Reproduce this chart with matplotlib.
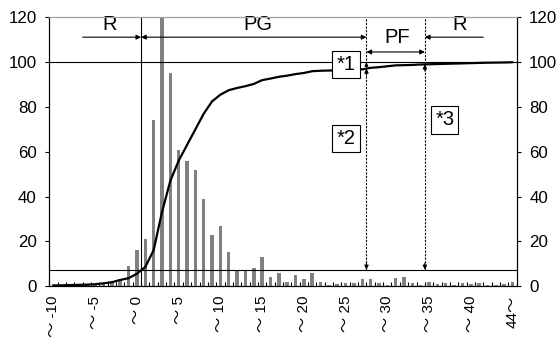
import numpy as np
import matplotlib
matplotlib.use('Agg')
import matplotlib.pyplot as plt

plt.rcParams['font.family'] = ['Liberation Sans', 'Noto Sans CJK JP']

# ---- data ----
bins = list(range(-10, 45))
categories = ['～ ' + str(b) for b in bins] + ['44～']
counts = [1, 0.5, 1, 0.3, 1, 0.5, 1.5, 1.5, 3, 9,
          16, 21, 74, 125, 95, 61, 56, 52, 39, 23,
          27, 15, 7, 7, 8, 13, 4, 6, 2, 5,
          3, 6, 2, 0.5, 1, 1.5, 1.5, 3, 3, 1.5,
          0.5, 3.5, 4, 1.5, 0.5, 2, 1, 1.5, 0.5, 1.5,
          1, 1.5, 0.5, 0.5, 1, 2]
cumulative = [0.2, 0.3, 0.4, 0.5, 0.6, 0.8, 1.2, 1.7, 2.7, 3.5,
              5.5, 8.5, 16, 33, 47, 56, 63, 70, 77, 82.5,
              85.5, 87.5, 88.5, 89.3, 90.3, 92, 92.7, 93.5, 94, 94.7,
              95.2, 96, 96.2, 96.3, 96.4, 96.5, 96.6, 96.8, 97.5, 97.8,
              98.2, 98.6, 98.7, 98.8, 99, 99.1, 99.2, 99.3, 99.4, 99.5,
              99.6, 99.7, 99.8, 99.85, 99.9, 100]
y_ticks = [0, 20, 40, 60, 80, 100, 120]
threshold = 7.3
full = 100
region_labels = ['R', 'PG', 'PF', 'R']
bounds = [10.5, 37.5, 44.5]
notes = ['*1', '*2', '*3']

fig = plt.figure(figsize=(5.59, 3.45), dpi=100)
ax = fig.add_axes([0.0882, 0.171, 0.9243 - 0.0882, 0.9493 - 0.171])

x = np.arange(len(categories))
ax.bar(x, counts, width=0.42, color='#808080', zorder=2)
ax.plot(x, cumulative, color='black', lw=1.6, zorder=4, solid_capstyle='round',
        solid_joinstyle='round')

ax.set_xlim(-0.5, len(categories) - 0.5)
ax.set_ylim(0, 120)

# x ticks
label_pos = list(range(0, len(categories), 5))
ax.set_xticks(label_pos)
ax.set_xticklabels([categories[i] for i in label_pos], rotation=90, fontsize=11)
ax.tick_params(axis='x', which='major', length=0, pad=7)
ax.set_xticks(np.arange(-0.5, len(categories), 1), minor=True)
ax.tick_params(axis='x', which='minor', direction='in', length=3, width=0.8)

ax.set_yticks(y_ticks)
ax.tick_params(axis='y', direction='out', length=3, width=0.8, labelsize=12.2, pad=6)

ax2 = ax.twinx()
ax2.set_ylim(0, 120)
ax2.set_yticks(y_ticks)
ax2.tick_params(axis='y', direction='out', length=3, width=0.8, labelsize=12.2, pad=6)

for a in (ax, ax2):
    a.spines['top'].set_color('#a0a0a0')
    a.spines['top'].set_linewidth(0.8)
    for s in ('left', 'right', 'bottom'):
        a.spines[s].set_linewidth(0.8)

# reference lines
ax.axhline(full, color='black', lw=0.8, zorder=3)
ax.axhline(threshold, color='black', lw=0.8, zorder=3)
ax.plot([bounds[0], bounds[0]], [0, 120], color='black', lw=0.8, zorder=3)

dash = (0, (2, 1.2))
for b in bounds[1:]:
    cv = np.interp(b, x, cumulative)
    ax.plot([b, b], [threshold, 120], color='black', lw=0.8, ls=dash, zorder=3)
    ax.annotate('', xy=(b, threshold), xytext=(b, threshold + 3),
                arrowprops=dict(arrowstyle='-|>', color='black', lw=0.8,
                                mutation_scale=6, shrinkA=0, shrinkB=0), zorder=5)
    ax.annotate('', xy=(b, cv), xytext=(b, cv - 3),
                arrowprops=dict(arrowstyle='-|>', color='black', lw=0.8,
                                mutation_scale=6, shrinkA=0, shrinkB=0), zorder=5)
# *1 arrow between 100 and curve
ax.annotate('', xy=(bounds[1], full), xytext=(bounds[1], full - 1.5),
            arrowprops=dict(arrowstyle='-|>', color='black', lw=0.8,
                            mutation_scale=5, shrinkA=0, shrinkB=0), zorder=5)

# region arrows
ya = 111.2
yb = 104.6
akw = dict(color='black', lw=0.8, mutation_scale=7, shrinkA=0, shrinkB=0)
ax.annotate('', xy=(bounds[0], ya), xytext=(3.5, ya), arrowprops=dict(arrowstyle='-|>', **akw))
ax.annotate('', xy=(bounds[1], ya), xytext=(bounds[0], ya), arrowprops=dict(arrowstyle='<|-|>', **akw))
ax.annotate('', xy=(bounds[2], yb), xytext=(bounds[1], yb), arrowprops=dict(arrowstyle='<|-|>', **akw))
ax.annotate('', xy=(bounds[2], ya), xytext=(51.5, ya), arrowprops=dict(arrowstyle='-|>', **akw))

tkw = dict(fontsize=14.5, ha='center', va='center', zorder=6)
ax.text(6.75, 116.8, region_labels[0], **tkw)
ax.text(24.5, 116.8, region_labels[1], **tkw)
ax.text(41.2, 110.9, region_labels[2], **tkw)
ax.text(48.7, 116.8, region_labels[3], **tkw)

bkw = dict(fontsize=14.5, ha='center', va='center', zorder=7,
           bbox=dict(boxstyle='square,pad=0.2', fc='white', ec='black', lw=0.8))
ax.text(35.05, 99.2, notes[0], **bkw)
ax.text(35.05, 66.1, notes[1], **bkw)
ax.text(46.9, 74.2, notes[2], **bkw)

fig.savefig('out.png', dpi=100)
